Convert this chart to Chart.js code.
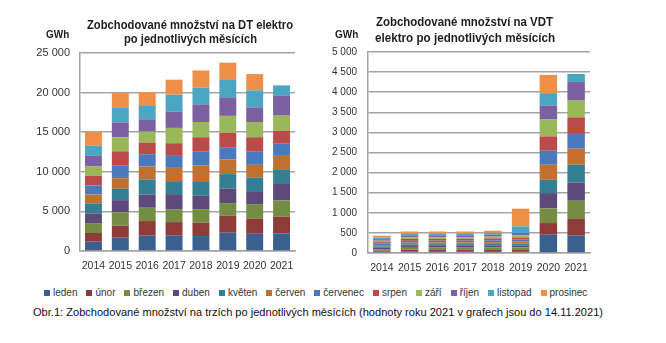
<!DOCTYPE html>
<html lang="cs">
<head>
<meta charset="utf-8">
<script src="https://cdn.jsdelivr.net/npm/chart.js@4.4.0/dist/chart.umd.min.js"></script>
<style>
  body {
    margin: 0;
    width: 666px;
    height: 343px;
    overflow: hidden;
    position: relative;
    background: #fff;
    font-family: 'Liberation Sans', Arial, sans-serif;
    color: #222;
  }
  canvas { position: absolute; top: 0; }
  #dt { left: 0; }
  #vdt { left: 300px; }
  .txt {
    position: absolute;
    white-space: nowrap;
    transform-origin: 0 50%;
  }
  .title { font-weight: bold; font-size: 13px; line-height: 15px; color: #1e1e1e; }
  .unit { font-weight: bold; font-size: 10px; line-height: 12px; color: #1e1e1e; }
  #legend {
    position: absolute;
    left: 44px;
    top: 287px;
    display: flex;
    font-size: 10px;
    line-height: 12px;
    color: #333;
  }
  #legend span.item { display: flex; align-items: center; margin-right: 9px; }
  #legend i { display: inline-block; width: 6px; height: 6px; margin-right: 3px; }
  #caption { font-size: 11px; line-height: 14px; color: #111; }
</style>
</head>
<body>
<canvas id="dt" width="333" height="280"></canvas>
<canvas id="vdt" width="333" height="280"></canvas>

<div class="txt title" id="dtT1" style="left:87px;top:17px">Zobchodované množství na DT elektro</div>
<div class="txt title" id="dtT2" style="left:124px;top:31px">po jednotlivých měsících</div>
<div class="txt unit" style="left:46px;top:29px">GWh</div>

<div class="txt title" id="vdtT1" style="left:376px;top:14px">Zobchodované množství na VDT</div>
<div class="txt title" id="vdtT2" style="left:375px;top:30px">elektro po jednotlivých měsících</div>
<div class="txt unit" style="left:335px;top:29px">GWh</div>

<div id="legend"></div>
<div class="txt" id="caption" style="left:33px;top:305px">Obr.1: Zobchodované množství na trzích po jednotlivých měsících (hodnoty roku 2021 v grafech jsou do 14.11.2021)</div>

<script>
const years = ['2014', '2015', '2016', '2017', '2018', '2019', '2020', '2021'];
const months = ['leden', 'únor', 'březen', 'duben', 'květen', 'červen',
  'červenec', 'srpen', 'září', 'říjen', 'listopad', 'prosinec'];

// DT elektro, GWh za měsíc (2021 jen do listopadu)
const dt2014 = [1180, 1090, 1180, 1300, 1260, 1130, 1130, 1220, 1220, 1300, 1300, 1720];
const dt2015 = [1680, 1510, 1680, 1550, 1430, 1340, 1640, 1760, 1760, 1890, 1810, 1890];
const dt2016 = [1930, 1850, 1680, 1680, 1890, 1640, 1550, 1470, 1390, 1550, 1680, 1760];
const dt2017 = [1930, 1720, 1640, 1890, 1640, 1680, 1510, 1600, 1930, 2060, 2140, 1890];
const dt2018 = [1890, 1680, 1720, 1680, 1850, 1970, 1810, 1760, 1930, 2230, 2100, 2180];
const dt2019 = [2310, 2140, 1600, 1810, 1850, 1850, 1550, 1810, 2140, 2350, 2270, 2100];
const dt2020 = [2180, 1890, 1850, 1640, 1720, 1600, 1720, 1760, 1930, 1850, 2140, 2060];
const dt2021 = [2230, 2100, 2060, 2180, 1760, 1680, 1600, 1550, 1930, 2560, 1260];

// VDT elektro, GWh za měsíc
const vdt2014 = [32, 30, 34, 33, 35, 33, 36, 37, 36, 38, 40, 46];
const vdt2015 = [44, 40, 45, 43, 44, 42, 45, 45, 44, 46, 46, 51];
const vdt2016 = [46, 43, 45, 42, 44, 43, 44, 43, 44, 46, 45, 50];
const vdt2017 = [45, 42, 46, 44, 43, 43, 45, 44, 44, 45, 46, 48];
const vdt2018 = [47, 44, 46, 45, 45, 44, 46, 46, 45, 47, 48, 52];
const vdt2019 = [46, 44, 48, 47, 49, 48, 50, 52, 53, 60, 165, 440];
const vdt2020 = [455, 290, 365, 380, 330, 375, 350, 355, 430, 340, 305, 455];
const vdt2021 = [430, 415, 455, 455, 440, 400, 390, 390, 415, 465, 200];

const dtTicks = [0, 5000, 10000, 15000, 20000, 25000];
const vdtTicks = [0, 500, 1000, 1500, 2000, 2500, 3000, 3500, 4000, 4500, 5000];

const monthColors = ['#3b5f8f', '#8f3b39', '#748d43', '#5d4a7a', '#357f95', '#c0702f',
  '#4a7abd', '#ba4b48', '#98b85a', '#7b619f', '#4aa6c2', '#f08f48'];
const gridColor = '#a3a3a3';

const fmt = v => String(v).replace(/\B(?=(\d{3})+(?!\d))/g, ' ');

// one dataset per month, stacked over the years
function monthSets(rows) {
  return months.map((m, i) => ({
    label: m,
    data: rows.map(r => (r[i] === undefined ? null : r[i])),
    backgroundColor: monthColors[i],
    borderWidth: 0,
    categoryPercentage: 1,
    barPercentage: 0.63,
  }));
}

function makeChart(id, rows, ticks, g) {
  return new Chart(document.getElementById(id), {
    type: 'bar',
    data: { labels: years, datasets: monthSets(rows) },
    options: {
      responsive: false,
      animation: false,
      devicePixelRatio: 1,
      layout: { padding: { top: g.top, right: g.right, bottom: 0, left: 0 } },
      plugins: { legend: { display: false }, tooltip: { enabled: false } },
      scales: {
        x: {
          stacked: true,
          grid: { display: false, drawTicks: false },
          border: { color: gridColor, width: 1.5 },
          ticks: {
            color: '#333',
            padding: 9,
            maxRotation: 0,
            minRotation: 0,
            autoSkip: false,
            font: { size: 10.5, family: 'Liberation Sans' },
          },
          afterFit: s => { s.height = g.xh; },
        },
        y: {
          stacked: true,
          min: 0,
          max: ticks[ticks.length - 1],
          grid: { color: gridColor, lineWidth: 1.5, drawTicks: false },
          border: { color: gridColor, width: 1.5 },
          ticks: {
            stepSize: ticks[1] - ticks[0],
            color: '#333',
            padding: g.pad,
            font: { size: g.fs, family: 'Liberation Sans' },
            callback: v => fmt(v),
          },
          afterFit: s => { s.width = g.yw; },
        },
      },
    },
  });
}

makeChart('dt', [dt2014, dt2015, dt2016, dt2017, dt2018, dt2019, dt2020, dt2021], dtTicks,
  { top: 53, right: 38, xh: 29, yw: 80, pad: 10, fs: 11 });
makeChart('vdt', [vdt2014, vdt2015, vdt2016, vdt2017, vdt2018, vdt2019, vdt2020, vdt2021], vdtTicks,
  { top: 52, right: 43, xh: 27, yw: 68, pad: 11, fs: 10 });

// shared legend under both charts
const legend = document.getElementById('legend');
months.forEach((m, i) => {
  const item = document.createElement('span');
  item.className = 'item';
  item.innerHTML = `<i style="background:${monthColors[i]}"></i>${m}`;
  legend.appendChild(item);
});

// squeeze a text line into the width it has
function fit(id, width) {
  const el = document.getElementById(id);
  el.style.transform = `scaleX(${width / el.getBoundingClientRect().width})`;
}
fit('dtT1', 206);
fit('dtT2', 133);
fit('vdtT1', 177);
fit('vdtT2', 180);
fit('caption', 570);
</script>
</body>
</html>
